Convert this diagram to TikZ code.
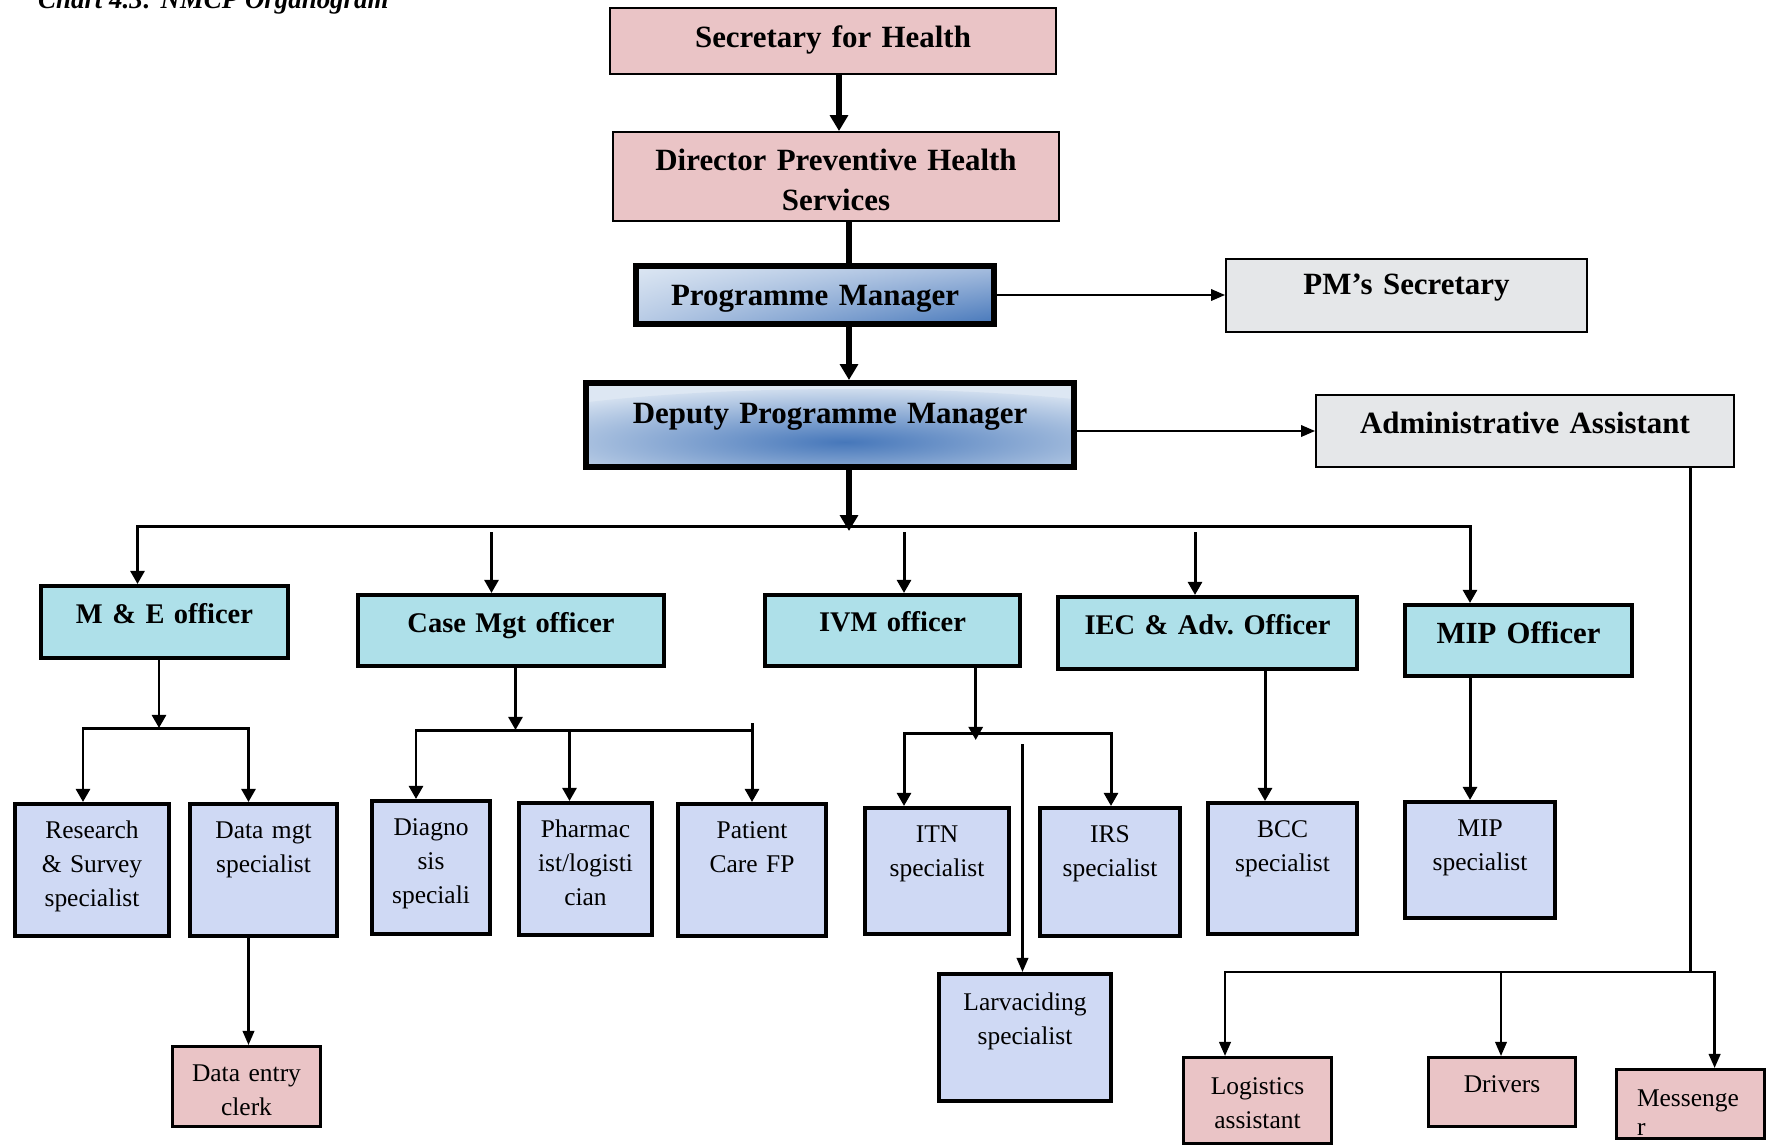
\documentclass[tikz,border=0pt]{standalone}
\usepackage{fontspec}
\setmainfont{Liberation Serif}
\usetikzlibrary{arrows.meta,shadings}

\definecolor{pinkbox}{HTML}{EAC4C6}
\definecolor{pmlight}{HTML}{DDE7F3}
\definecolor{pmmid}{HTML}{A7BEDF}
\definecolor{pmdark}{HTML}{4677BA}
\definecolor{marble}{HTML}{E5E7E9}
\definecolor{aqua}{HTML}{AEE0E9}
\definecolor{lavender}{HTML}{CFD9F4}

\newcommand{\orgtitle}{\fontsize{15.3}{18}\selectfont\bfseries\itshape}
\newcommand{\orgtop}{\fontsize{17.6}{22.8}\selectfont\bfseries}
\newcommand{\orgoff}{\fontsize{16.2}{20}\selectfont\bfseries}
\newcommand{\orgspec}{\fontsize{14.5}{19.4}\selectfont}

\tikzset{
	box/.style={draw, inner sep=0pt, align=center},
	topbox/.style={box, line width=1.1pt, font=\orgtop, text height=0.78cm},
	officer/.style={box, line width=2.3pt, fill=aqua, font=\orgoff, text height=0.74cm},
	spec/.style={box, line width=2.3pt, fill=lavender, font=\orgspec, text height=0.68cm},
	staff/.style={box, line width=1.7pt, fill=pinkbox, font=\orgspec, text height=0.70cm},
	bigarr/.style={line width=2.9pt, -{Triangle[width=10pt,length=9pt]}},
	arr/.style={line width=1.7pt, -{Triangle[width=8pt,length=7.5pt]}},
	fork/.style={line width=1.7pt, {Triangle[width=8pt,length=7.5pt]}-{Triangle[width=8pt,length=7.5pt]}},
	thinarr/.style={line width=1.3pt, -{Triangle[width=6.5pt,length=8pt]}},
	thinfork/.style={line width=1.5pt, {Triangle[width=6.5pt,length=8pt]}-{Triangle[width=6.5pt,length=8pt]}},
	busline/.style={line width=1.7pt}
}

\begin{document}
\begin{tikzpicture}[x=0.02cm, y=-0.02cm]
	\useasboundingbox[fill=white] (0,0) rectangle (1767,1146);

	\node[anchor=base west, font=\orgtitle] (title) at (32,8.5) {Chart 4.3: NMCP Organogram};

	\node[topbox, fill=pinkbox, text width=8.92cm, text depth=0.54cm] (sec) at (833,41) {Secretary for Health};
	\node[topbox, fill=pinkbox, text width=8.92cm, text height=0.76cm, text depth=1.02cm] (dir) at (836,176.5) {Director Preventive Health\\Services};
	\node[topbox, line width=3.4pt, shade, shading=bilinear interpolation, upper left=pmlight, upper right=pmmid, lower left=pmmid!70!pmlight, lower right=pmdark, text width=7.16cm, text depth=0.38cm] (pm) at (815,295) {Programme Manager};
	\node[topbox, line width=3.4pt, fill=pmlight, text width=9.76cm, text height=0.80cm, text depth=0.88cm,
		path picture={\shade[inner color=pmdark, outer color=pmlight] ([xshift=0.3cm,yshift=-0.4cm]path picture bounding box.center) ellipse (8cm and 1.12cm);}] (dpm) at (830,425) {Deputy Programme Manager};
	\node[topbox, fill=marble, text width=7.22cm, text height=0.70cm, text depth=0.76cm] (pmsec) at (1406.5,295.5) {PM’s Secretary};
	\node[topbox, fill=marble, text width=8.36cm, text height=0.76cm, text depth=0.68cm] (admin) at (1525,431) {Administrative Assistant};

	\node[officer, text width=4.94cm, text depth=0.70cm] (me) at (164.5,622) {M \& E officer};
	\node[officer, text width=6.12cm, text depth=0.68cm] (case) at (511,630.5) {Case Mgt officer};
	\node[officer, text width=5.10cm, text height=0.72cm, text depth=0.70cm] (ivm) at (892.5,630.5) {IVM officer};
	\node[officer, text width=5.98cm, text depth=0.70cm] (iec) at (1207.5,633) {IEC \& Adv.\ Officer};
	\node[officer, text width=4.54cm, text height=0.76cm, text depth=0.66cm, font=\fontsize{17.5}{20}\selectfont\bfseries] (mip) at (1518.5,640.5) {MIP Officer};

	\node[spec, text width=3.08cm, text depth=1.96cm] (res) at (92,870) {Research\\\& Survey\\specialist};
	\node[spec, text width=2.94cm, text depth=1.96cm] (dmgt) at (263.5,870) {Data mgt\\specialist};
	\node[spec, text width=2.36cm, text depth=1.98cm] (diag) at (431,867.5) {Diagno\\sis\\speciali};
	\node[spec, text width=2.66cm, text depth=1.96cm] (pharm) at (585.5,869) {Pharmac\\ist/logisti\\cian};
	\node[spec, text width=2.96cm, text depth=1.96cm] (pat) at (752,870) {Patient\\Care FP};
	\node[spec, text width=2.88cm, text depth=1.84cm] (itn) at (937,871) {ITN\\specialist};
	\node[spec, text width=2.80cm, text depth=1.88cm] (irs) at (1110,872) {IRS\\specialist};
	\node[spec, text width=2.98cm, text depth=1.94cm] (bcc) at (1282.5,868.5) {BCC\\specialist};
	\node[spec, text width=3.00cm, text depth=1.64cm] (mipsp) at (1480,860) {MIP\\specialist};
	\node[spec, text width=3.44cm, text height=0.72cm, text depth=1.82cm] (larv) at (1025,1037.5) {Larvaciding\\specialist};

	\node[staff, text width=2.96cm, text depth=0.90cm] (dent) at (246.5,1086.5) {Data entry\\clerk};
	\node[staff, text width=2.96cm, text height=0.74cm, text depth=0.98cm] (logi) at (1257.5,1100.5) {Logistics\\assistant};
	\node[staff, text width=2.94cm, text depth=0.68cm] (drv) at (1502,1092) {Drivers};
	\node[staff, align=left, inner xsep=0.41cm, text width=2.14cm, text height=0.74cm, text depth=0.64cm] (msg) at (1690.5,1104) {Messenge\\[-3pt]r};

	\coordinate (spineA) at (839,0);
	\coordinate (spineB) at (849,0);
	\draw[bigarr] (sec.south -| spineA) -- (dir.north -| spineA);
	\draw[line width=2.9pt] (dir.south -| spineB) -- (pm.north -| spineB);
	\draw[bigarr] (pm.south -| spineB) -- (dpm.north -| spineB);
	\coordinate (hub) at (849,531);
	\draw[bigarr] (dpm.south -| hub) -- (hub);

	\draw[thinarr] (pm.east) -- (pm.east -| pmsec.west);
	\draw[thinarr] (admin.west -| dpm.east) -- (admin.west);

	\coordinate (busL) at (137.5,526);
	\coordinate (busR) at (1470,526);
	\draw[fork] (busL |- me.north) -- (busL) -- (busR) -- (busR |- mip.north);
	\foreach \c/\x in {case/491.5, ivm/904, iec/1195}{
		\coordinate (drop) at (\x,532);
		\draw[arr] (drop) -- (drop |- \c.north);
	}

	\coordinate (meHub) at (159,728);
	\coordinate (meL) at (83,728);
	\coordinate (meR) at (248.5,728);
	\draw[arr] (me.south -| meHub) -- (meHub);
	\draw[fork] (meL |- res.north) -- (meL) -- (meR) -- (meR |- dmgt.north);
	\draw[thinarr] (dmgt.south -| meR) -- (dent.north -| meR);

	\coordinate (caseHub) at (515.5,730);
	\coordinate (caseL) at (416,730);
	\coordinate (caseM) at (569.5,730);
	\coordinate (caseR) at (752,730);
	\draw[arr] (case.south -| caseHub) -- (caseHub);
	\draw[fork] (caseL |- diag.north) -- (caseL) -- (caseR) -- (caseR |- pat.north);
	\draw[busline] (caseR) -- ++(0,-7);
	\draw[arr] (caseM) -- (caseM |- pharm.north);

	\coordinate (ivmHub) at (975.7,740);
	\coordinate (ivmL) at (904,733);
	\coordinate (ivmR) at (1111,733);
	\draw[arr] (ivm.south -| ivmHub) -- (ivmHub);
	\draw[fork] (ivmL |- itn.north) -- (ivmL) -- (ivmR) -- (ivmR |- irs.north);
	\coordinate (larvTop) at (1022.5,744);
	\draw[thinarr] (larvTop) -- (larvTop |- larv.north);

	\coordinate (iecX) at (1265,0);
	\draw[arr] (iec.south -| iecX) -- (bcc.north -| iecX);
	\draw[arr] (mip.south -| busR) -- (mipsp.north -| busR);

	\coordinate (admHub) at (1690,972);
	\coordinate (admL) at (1225,972);
	\coordinate (admM) at (1501,972);
	\coordinate (admR) at (1714.6,972);
	\draw[busline] (admin.south -| admHub) -- (admHub);
	\draw[thinfork] (admL |- logi.north) -- (admL) -- (admR) -- (admR |- msg.north);
	\draw[thinarr] (admM) -- (admM |- drv.north);
\end{tikzpicture}
\end{document}
